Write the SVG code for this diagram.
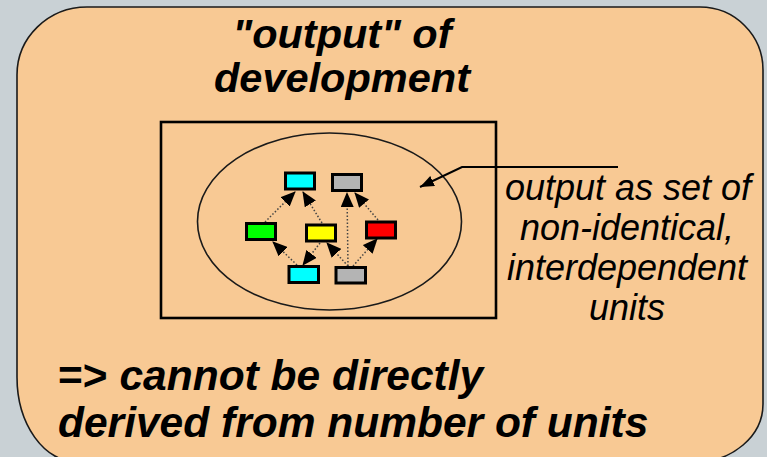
<svg xmlns="http://www.w3.org/2000/svg" width="767" height="457" viewBox="0 0 767 457">
<style>
.bg{fill:#c9d1d5}
.panel{fill:#f8c994;stroke:#1a1a1a;stroke-width:1.6}
.frame{fill:none;stroke:#000;stroke-width:2.6}
.ell{fill:none;stroke:#1a1a1a;stroke-width:1.6}
.unit{stroke:#000;stroke-width:3}
.dep{fill:none;stroke:#444;stroke-width:1.5;stroke-dasharray:1.5 2}
.call{fill:none;stroke:#000;stroke-width:2}
.t{font-family:"Liberation Sans",Arial,sans-serif;fill:#000}
.bi{font-weight:bold;font-style:italic}
.it{font-style:italic}
</style>
<defs>
<marker id="ah" viewBox="0 0 15 13" refX="14" refY="6.5" markerWidth="15" markerHeight="13" markerUnits="userSpaceOnUse" orient="auto">
<path d="M0,0 L15,6.5 L0,13 Z" fill="#000"/>
</marker>
<marker id="ah2" viewBox="0 0 14 11" refX="14" refY="5.5" markerWidth="14" markerHeight="11" markerUnits="userSpaceOnUse" orient="auto">
<path d="M0,0 L14,5.5 L0,11 Z" fill="#000"/>
</marker>
</defs>
<rect class="bg" x="0" y="0" width="767" height="457"/>
<path class="panel" d="M87 7 H700 A63 63 0 0 1 763 70 V404 A68 58 0 0 1 695 462 H77 A60 85 0 0 1 17 377 V75 A70 68 0 0 1 87 7 Z"/>
<g id="title">
<text class="t bi" x="342" y="48" font-size="41.5" text-anchor="middle">"output" of</text>
<text class="t bi" x="342" y="92" font-size="41.5" text-anchor="middle">development</text>
</g>
<g id="frame">
<rect class="frame" x="161" y="122" width="335" height="196"/>
<ellipse class="ell" cx="329.5" cy="221.5" rx="132" ry="88.5"/>
</g>
<g id="connectors">
<line class="dep" x1="265" y1="222" x2="295" y2="192" marker-end="url(#ah)"/>
<line class="dep" x1="322" y1="223" x2="303" y2="192" marker-end="url(#ah)"/>
<line class="dep" x1="348" y1="266" x2="347" y2="193" marker-end="url(#ah)"/>
<line class="dep" x1="378" y1="220" x2="355" y2="193" marker-end="url(#ah)"/>
<line class="dep" x1="297" y1="265" x2="273" y2="242" marker-end="url(#ah)"/>
<line class="dep" x1="320" y1="243" x2="303" y2="265" marker-end="url(#ah)"/>
<line class="dep" x1="348" y1="266" x2="327" y2="243" marker-end="url(#ah)"/>
<line class="dep" x1="353" y1="266" x2="377" y2="239" marker-end="url(#ah)"/>
<polyline class="call" points="618,167 462,167 420,187" marker-end="url(#ah2)"/>
</g>
<g id="unit-cyan-top"><rect class="unit" x="285.5" y="173" width="29" height="16" fill="#00ffff"/></g>
<g id="unit-grey-top"><rect class="unit" x="332.5" y="174.5" width="29" height="16" fill="#b4b4b4"/></g>
<g id="unit-green"><rect class="unit" x="246.5" y="223.5" width="29" height="16" fill="#00ff00"/></g>
<g id="unit-yellow"><rect class="unit" x="306.5" y="225" width="29" height="16" fill="#ffff00"/></g>
<g id="unit-red"><rect class="unit" x="366.5" y="222" width="29" height="16" fill="#ff0000"/></g>
<g id="unit-cyan-bottom"><rect class="unit" x="289" y="266.5" width="29.5" height="16" fill="#00ffff"/></g>
<g id="unit-grey-bottom"><rect class="unit" x="336" y="267.5" width="29.5" height="15.5" fill="#b4b4b4"/></g>
<g id="callout-label">
<text class="t it" x="628" y="200" font-size="36" text-anchor="middle">output as set of</text>
<text class="t it" x="627" y="240" font-size="36" text-anchor="middle">non-identical,</text>
<text class="t it" x="627" y="280" font-size="36" text-anchor="middle">interdependent</text>
<text class="t it" x="627" y="320" font-size="36" text-anchor="middle">units</text>
</g>
<g id="conclusion">
<text class="t bi" x="58" y="390" font-size="42.5"><tspan font-style="normal">=&gt;</tspan> cannot be directly</text>
<text class="t bi" x="58" y="437" font-size="42.5">derived from number of units</text>
</g>
</svg>
